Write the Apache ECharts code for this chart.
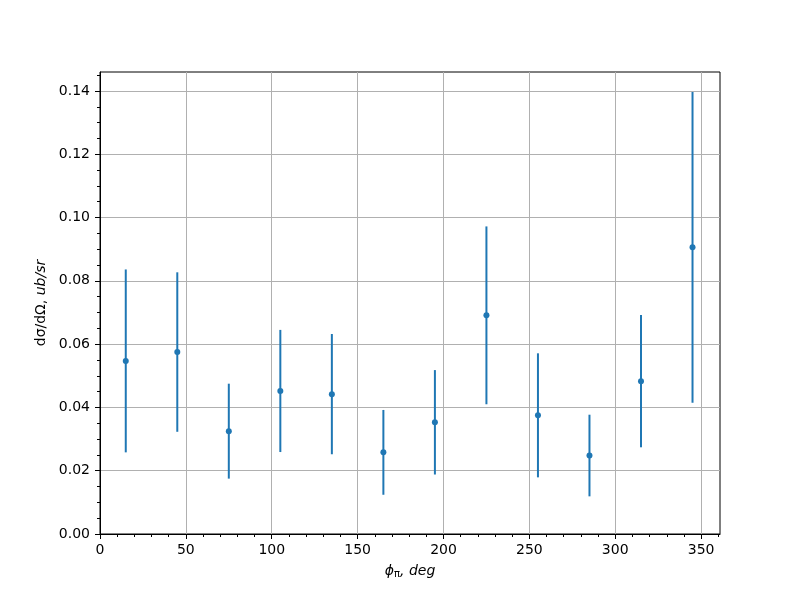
<!DOCTYPE html>
<html>
<head>
<meta charset="utf-8">
<script src="https://cdn.jsdelivr.net/npm/echarts@6/dist/echarts.min.js"></script>
<style>html,body{margin:0;padding:0;background:#fff}#c{width:800px;height:600px}</style>
</head>
<body>
<div id="c"></div>
<script>
const phi = [15, 45, 75, 105, 135, 165, 195, 225, 255, 285, 315, 345];
const sigma = [0.0547, 0.0575, 0.0325, 0.0452, 0.0442, 0.0258, 0.0353, 0.0691, 0.0375, 0.0248, 0.0483, 0.0906];
const sigmaErr = [0.0289, 0.0252, 0.0150, 0.0193, 0.0190, 0.0134, 0.0165, 0.0281, 0.0196, 0.0129, 0.0209, 0.0491];
const xTicks = [0, 50, 100, 150, 200, 250, 300, 350];
const yTicks = [0, 0.02, 0.04, 0.06, 0.08, 0.10, 0.12, 0.14];

const X_MAX = 361, Y_MAX = 0.146;
const xMinor = [];
for (let k = 1; k * 10 <= X_MAX; k++) if (k % 5) xMinor.push(k * 10);
const yMinor = [];
for (let k = 1; k * 0.005 <= Y_MAX + 1e-9; k++) if (k % 4) yMinor.push(+(k * 0.005).toFixed(3));

const C = '#1f77b4';
const FONT = 'DejaVu Sans';
const chart = echarts.init(document.getElementById('c'));
const errData = phi.map((x, i) => [x, sigma[i] - sigmaErr[i], sigma[i] + sigmaErr[i]]);
const ptData = phi.map((x, i) => [x, sigma[i]]);

const minorAxisCommon = {
  type: 'value',
  axisLine: { show: false, onZero: false },
  splitLine: { show: false },
  axisLabel: { show: false },
};

chart.setOption({
  animation: false,
  backgroundColor: '#fff',
  grid: { left: 100, right: 80, top: 72, bottom: 66, show: true, borderColor: '#000', borderWidth: 1, backgroundColor: 'transparent' },
  xAxis: [{
    type: 'value', min: 0, max: X_MAX, interval: 50,
    axisLine: { show: true, onZero: false, lineStyle: { color: '#000', width: 1 } },
    axisTick: { show: true, length: 5, customValues: xTicks, lineStyle: { color: '#000' } },
    splitLine: { show: true, lineStyle: { color: '#b0b0b0', width: 1 } },
    axisLabel: { color: '#000', fontFamily: FONT, fontSize: 14, margin: 9, customValues: xTicks },
    name: '{i|ϕ}{s|π}{i|, deg}', nameLocation: 'middle', nameGap: 29,
    nameTextStyle: { rich: {
      i: { fontFamily: FONT, fontStyle: 'italic', fontSize: 14, color: '#000' },
      s: { fontFamily: FONT, fontSize: 10, color: '#000', verticalAlign: 'bottom', padding: [6, 0, 0, 0] }
    } }
  }, Object.assign({}, minorAxisCommon, {
    min: 0, max: X_MAX, position: 'bottom',
    axisTick: { show: true, length: 3, customValues: xMinor, lineStyle: { color: '#000' } }
  })],
  yAxis: [{
    type: 'value', min: 0, max: Y_MAX, interval: 0.02,
    axisLine: { show: true, onZero: false, lineStyle: { color: '#000', width: 1 } },
    axisTick: { show: true, length: 5, customValues: yTicks, lineStyle: { color: '#000' } },
    splitLine: { show: true, lineStyle: { color: '#b0b0b0', width: 1 } },
    axisLabel: { color: '#000', fontFamily: FONT, fontSize: 14, margin: 10, customValues: yTicks, formatter: v => v.toFixed(2) },
    name: '{n|dσ/dΩ, }{i|ub/sr}', nameLocation: 'middle', nameGap: 50, nameRotate: 90,
    nameTextStyle: { rich: {
      n: { fontFamily: FONT, fontSize: 14, color: '#000' },
      i: { fontFamily: FONT, fontStyle: 'italic', fontSize: 14, color: '#000' }
    } }
  }, Object.assign({}, minorAxisCommon, {
    min: 0, max: Y_MAX, position: 'left',
    axisTick: { show: true, length: 3, customValues: yMinor, lineStyle: { color: '#000' } }
  })],
  series: [
    {
      type: 'custom',
      data: errData,
      encode: { x: 0, y: [1, 2] },
      renderItem: (params, api) => {
        const x = api.value(0);
        const lo = api.coord([x, api.value(1)]);
        const hi = api.coord([x, api.value(2)]);
        return { type: 'line', shape: { x1: lo[0], y1: lo[1], x2: hi[0], y2: hi[1] },
                 style: { stroke: C, lineWidth: 2 } };
      },
      z: 2
    },
    {
      type: 'scatter',
      data: ptData,
      symbol: 'circle', symbolSize: 6,
      itemStyle: { color: C, opacity: 1 },
      z: 3
    }
  ]
});
</script>
</body>
</html>
